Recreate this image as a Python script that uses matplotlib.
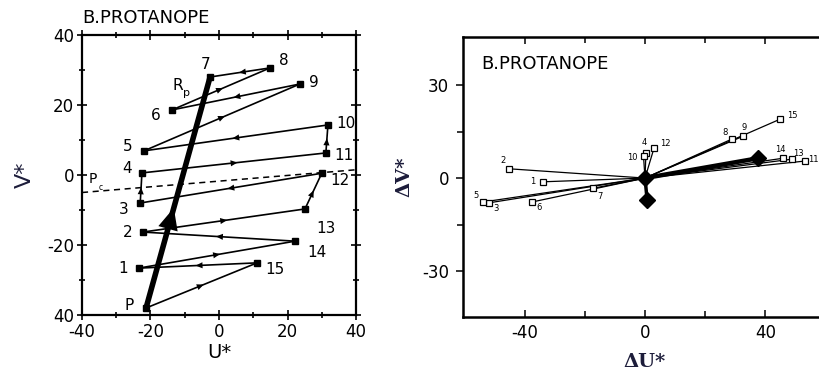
import numpy as np
import matplotlib
matplotlib.use("Agg")
import matplotlib.pyplot as plt
from matplotlib.patches import FancyArrowPatch

# left panel: cap positions in U*, V*
caps = ["P", "1", "2", "3", "4", "5", "6", "7", "8", "9", "10", "11", "12", "13", "14", "15"]
cap_u = [-21.3, -23.4, -22.2, -23.0, -22.5, -21.9, -13.7, -2.6, 14.9, 23.6, 31.8, 31.2, 30.0, 25.1, 22.2, 11.1]
cap_v = [-38.0, -26.6, -16.3, -8.0, 0.6, 6.9, 18.6, 28.0, 30.6, 26.0, 14.3, 6.3, 0.5, -9.7, -18.9, -25.1]
order = ["P", "15", "1", "14", "2", "13", "12", "3", "4", "11", "10", "5", "9", "6", "8", "7"]
confusion_u = [-40, 40]
confusion_v = [-5.0, 1.5]

# right panel: colour differences between adjacent caps
diff_caps = ["1", "2", "3", "4", "5", "6", "7", "8", "9", "10", "11", "12", "13", "14", "15"]
diff_u = [-34.0, -45.2, -52.0, 0.3, -53.8, -37.5, -17.3, 28.9, 32.6, -0.5, 53.2, 3.0, 48.8, 45.9, 44.9]
diff_v = [-1.2, 3.0, -8.0, 8.0, -7.7, -7.7, -3.3, 12.6, 13.5, 7.0, 5.5, 9.7, 6.1, 6.4, 19.0]
mean_u = [0.0, 37.6, 0.7]
mean_v = [0.0, 6.4, -7.0]

plt.rcParams["font.family"] = ["DejaVu Sans"]
plt.rcParams["axes.unicode_minus"] = False

fig = plt.figure(figsize=(8.19, 3.76), dpi=100)

# ---------------- left panel ----------------
ax = fig.add_axes([0.1001, 0.1622, 0.3346, 0.7447])
pos = {c: (u, v) for c, u, v in zip(caps, cap_u, cap_v)}

for a, b in zip(order[:-1], order[1:]):
    (x0, y0), (x1, y1) = pos[a], pos[b]
    ax.plot([x0, x1], [y0, y1], color="black", lw=1.2, zorder=2)
    mx, my = (x0 + x1) / 2, (y0 + y1) / 2
    dx, dy = (x1 - x0) * 0.02, (y1 - y0) * 0.02
    ax.annotate("", xy=(mx + dx, my + dy), xytext=(mx - dx, my - dy),
                arrowprops=dict(arrowstyle="-|>,head_length=0.5,head_width=0.22",
                                color="black", lw=0, shrinkA=0, shrinkB=0), zorder=3)

ax.plot(cap_u, cap_v, "s", color="black", ms=4.5, zorder=4)

# thick P -> 7 axis with arrowhead
p0 = np.array(pos["P"])
p7 = np.array(pos["7"])
ax.plot([p0[0], p7[0]], [p0[1], p7[1]], color="black", lw=4, solid_capstyle="butt", zorder=3)
a0 = p0 + (p7 - p0) * 0.30
a1 = p0 + (p7 - p0) * 0.445
ax.add_patch(FancyArrowPatch(a0, a1, arrowstyle="-|>,head_length=1.3,head_width=0.6",
                             mutation_scale=12, color="black", lw=0, zorder=4))

ax.plot(confusion_u, confusion_v, "--", color="black", lw=1.1, dashes=(4, 3), zorder=2)

label_off = {
    "P": (-12, 2), "1": (-11, 0), "2": (-11, 0), "3": (-12, -5), "4": (-11, 3),
    "5": (-12, 3), "6": (-12, -4), "7": (-3, 9), "8": (10, 5), "9": (10, 1),
    "10": (13, 1), "11": (13, -2), "12": (13, -5), "13": (15, -14), "14": (16, -8),
    "15": (13, -5),
}
for c in caps:
    ox, oy = label_off[c]
    ax.annotate(c, pos[c], xytext=(ox, oy), textcoords="offset points",
                ha="center", va="center", fontsize=11)

ax.text(-12, 25.7, "R", fontsize=11, ha="center", va="center")
ax.text(-9.5, 23.3, "p", fontsize=8, ha="center", va="center")
ax.text(-36.8, -1.0, "P", fontsize=10, ha="center", va="center")
ax.text(-34.6, -3.5, "c", fontsize=5.5, ha="center", va="center")

ax.set_xlim(-40, 40)
ax.set_ylim(-40, 40)
ax.set_xticks([-40, -20, 0, 20, 40])
ax.set_xticklabels(["-40", "-20", "0", "20", "40"])
ax.set_yticks([-40, -20, 0, 20, 40])
ax.set_yticklabels(["40", "-20", "0", "20", "40"])
ax.set_xticks(np.arange(-40, 41, 10), minor=True)
ax.set_yticks(np.arange(-40, 41, 10), minor=True)
ax.tick_params(which="both", direction="inout", top=True, right=True, width=1.2)
ax.tick_params(which="major", length=7, labelsize=12, pad=2)
ax.tick_params(which="minor", length=5)
for s in ax.spines.values():
    s.set_linewidth(1.6)
ax.set_xlabel("U*", fontsize=14, labelpad=2)
ax.set_ylabel("V*", fontsize=16, color="#1c1c3a", labelpad=9)
ax.text(0.0, 1.03, "B.PROTANOPE", transform=ax.transAxes, fontsize=13,
        ha="left", va="bottom")

# ---------------- right panel ----------------
bx = fig.add_axes([0.5653, 0.1569, 0.4427, 0.7447])

for u, v in zip(diff_u, diff_v):
    bx.plot([0, u], [0, v], color="black", lw=0.9, zorder=2)
bx.plot([0, mean_u[1]], [0, mean_v[1]], color="black", lw=3.2, zorder=3)
bx.plot([0, mean_u[2]], [0, mean_v[2]], color="black", lw=2.5, zorder=3)
bx.plot(diff_u, diff_v, "s", mfc="white", mec="black", mew=0.9, ms=5, zorder=4)
bx.plot(mean_u, mean_v, "D", color="black", ms=8, zorder=5)

diff_off = {
    "1": (-7, 0), "2": (-4, 6), "3": (5, -4), "4": (-1, 8), "5": (-5, 5),
    "6": (5, -4), "7": (5, -6), "8": (-5, 5), "9": (1, 6), "10": (-8, -1),
    "11": (6, 1), "12": (8, 3), "13": (5, 4), "14": (-2, 6), "15": (9, 3),
}
dpos = {c: (u, v) for c, u, v in zip(diff_caps, diff_u, diff_v)}
for c in diff_caps:
    ox, oy = diff_off[c]
    bx.annotate(c, dpos[c], xytext=(ox, oy), textcoords="offset points",
                ha="center", va="center", fontsize=6)

bx.set_xlim(-60.5, 60)
bx.set_ylim(-44.8, 45.5)
bx.set_xticks([-40, 0, 40])
bx.set_yticks([-30, 0, 30])
bx.set_xticks([-40, -20, 0, 20, 40], minor=True)
bx.set_yticks([-30, -15, 0, 15, 30], minor=True)
bx.tick_params(which="both", direction="out", width=1.1, top=True)
bx.tick_params(axis="x", which="both", direction="in")
bx.tick_params(which="major", length=5, labelsize=12, pad=5)
bx.tick_params(which="minor", length=4)
bx.spines["right"].set_visible(False)
for k in ["left", "bottom", "top"]:
    bx.spines[k].set_linewidth(1.8)
bx.set_xlabel("\u0394U*", fontsize=14, family="DejaVu Serif", fontweight="bold",
              color="#1c1c3a", labelpad=8)
bx.set_ylabel("\u0394V*", fontsize=14, family="DejaVu Serif", fontweight="bold",
              color="#1c1c3a", labelpad=6)
bx.text(0.05, 0.87, "B.PROTANOPE", transform=bx.transAxes, fontsize=13,
        ha="left", va="bottom")

fig.savefig("out.png", dpi=100)
